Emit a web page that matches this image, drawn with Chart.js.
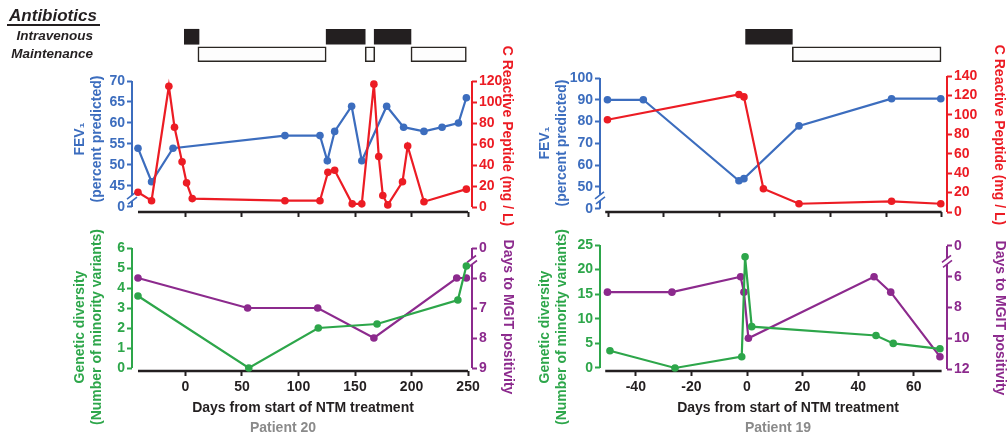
<!DOCTYPE html>
<html><head><meta charset="utf-8">
<script src="https://cdn.jsdelivr.net/npm/chart.js@4/dist/chart.umd.min.js"></script>
<style>
html,body{margin:0;padding:0;background:#fff;}
#wrap{position:relative;width:1008px;height:437px;overflow:hidden;font-family:"Liberation Sans",Arial,sans-serif;}
#wrap canvas{position:absolute;left:0;top:0;}
.t{position:absolute;white-space:nowrap;font-weight:bold;font-size:14px;line-height:17px;text-align:center;transform:translate(-50%,-50%);}
.rl{transform:translate(-50%,-50%) rotate(-90deg);}
.rr{transform:translate(-50%,-50%) rotate(90deg);}
</style></head>
<body><div id="wrap"></div>
<script>
// ---------------- DATA ----------------
// Patient 20
const p20FevDays  = [-42, -30, -11, 88, 119, 125.5, 132, 147, 156, 178, 193, 211, 227, 241.5, 248.5];
const p20Fev      = [54, 46, 54, 57, 57, 51, 58, 64, 51, 64, 59, 58, 59, 60, 66];
const p20CrpDays  = [-42, -30, -14.7, -9.7, -3, 1, 6, 88, 119, 126, 132, 147.5, 156, 166.7, 171, 174.6, 179, 192, 196.6, 211, 248.5];
const p20Crp      = [14, 6, 115, 76, 43, 23, 8, 6, 6, 33, 35, 3, 3, 117, 48, 11, 2, 24, 58, 5, 17];
const p20DivDays  = [-42, 56, 117.5, 169.5, 241, 248.5];
const p20Div      = [3.6, 0, 2.0, 2.2, 3.4, 5.1];
const p20MgitDays = [-42, 55, 117, 166.7, 240, 248.5];
const p20Mgit     = [6, 7, 7, 8, 6, 6];
const p20IvStart  = [-1, 124.5, 167];
const p20IvEnd    = [12, 159, 199.5];
const p20MaStart  = [11, 159, 199.5];
const p20MaEnd    = [124.5, 167.5, 248.5];
// Patient 19
const p19FevDays  = [-50.2, -37.3, -2.9, -1.1, 18.7, 52, 69.7];
const p19Fev      = [90, 90, 52.8, 53.8, 78, 90.5, 90.5];
const p19CrpDays  = [-50.2, -2.9, -1.1, 5.9, 18.7, 52, 69.7];
const p19Crp      = [95, 121, 118.5, 24, 8.5, 11, 8.5];
const p19DivDays  = [-49.3, -25.9, -1.9, -0.7, 1.7, 46.4, 52.6, 69.4];
const p19Div      = [3.5, 0, 2.3, 22.6, 8.4, 6.6, 5.0, 3.9];
const p19MgitDays = [-50.2, -27, -2.3, -1.1, 0.5, 45.7, 51.7, 69.4];
const p19Mgit     = [7, 7, 6, 7, 10, 6, 7, 11.2];
const p19IvStart  = [-0.5];
const p19IvEnd    = [16.3];
const p19MaStart  = [16.3];
const p19MaEnd    = [69.8];
// Ticks and labels
const p20DayTicks   = [0, 50, 100, 150, 200, 250];
const p19TopTicks   = [-50, -30, -10, 10, 30, 50, 70];
const p19DayTicks   = [-40, -20, 0, 20, 40, 60];
const p20FevTicks   = [40, 45, 50, 55, 60, 65, 70];
const p20FevLabels  = ['0', '45', '50', '55', '60', '65', '70'];
const p20CrpTicks   = [0, 20, 40, 60, 80, 100, 120];
const p20DivTicks   = [0, 1, 2, 3, 4, 5, 6];
const p20MgitTicks  = [5, 6, 7, 8, 9];
const p20MgitLabels = ['0', '6', '7', '8', '9'];
const p19FevTicks   = [40, 50, 60, 70, 80, 90, 100];
const p19FevLabels  = ['0', '50', '60', '70', '80', '90', '100'];
const p19CrpTicks   = [0, 20, 40, 60, 80, 100, 120, 140];
const p19DivTicks   = [0, 5, 10, 15, 20, 25];
const p19MgitTicks  = [4, 6, 8, 10, 12];
const p19MgitLabels = ['0', '6', '8', '10', '12'];
const abxRows = ['Intravenous', 'Maintenance'];

// ---------------- STYLE ----------------
const FONT = "'Liberation Sans', Arial, sans-serif";
const BLUE = '#3C6DBE', RED = '#EC1C24', GREEN = '#2DA64A', PURPLE = '#8C2A8D', INK = '#231F20', GRAY = '#8A8A8A';
const W = 1008, H = 437;
const wrap = document.getElementById('wrap');

function pts(xs, ys) { return xs.map((x, i) => ({x: x, y: ys[i]})); }
function tickFont() { return {family: FONT, size: 14, weight: 'bold'}; }

function yScale(pos, color, min, max, ticks, labels, width, reverse) {
  return {
    type: 'linear', position: pos, min: min, max: max, reverse: !!reverse,
    afterBuildTicks: s => { s.ticks = ticks.map(v => ({value: v})); },
    afterFit: s => { s.width = width; },
    border: {display: false},
    grid: {display: true, drawOnChartArea: false, drawTicks: true, tickLength: 5, tickWidth: 2, tickColor: color, color: color},
    ticks: {color: color, font: tickFont(), padding: 2, autoSkip: false,
      callback: v => { const i = ticks.indexOf(v); return i >= 0 ? (labels ? labels[i] : String(v)) : ''; }}
  };
}
function xScale(min, max, ticks, showLabels, height) {
  return {
    type: 'linear', position: 'bottom', min: min, max: max,
    afterBuildTicks: s => { s.ticks = ticks.map(v => ({value: v})); },
    afterFit: s => { s.height = height; },
    border: {display: false},
    grid: {display: true, drawOnChartArea: false, drawTicks: true, tickLength: 5, tickWidth: 2, tickColor: INK, color: INK},
    ticks: {display: showLabels, color: INK, font: tickFont(), padding: 3, maxRotation: 0, autoSkip: false,
      callback: v => String(v)}
  };
}
function lineDs(xs, ys, color, axis) {
  return {data: pts(xs, ys), yAxisID: axis, xAxisID: 'x', borderColor: color, backgroundColor: color,
    pointBackgroundColor: color, pointBorderColor: color, pointBorderWidth: 0, pointRadius: 3.8,
    borderWidth: 2.2, tension: 0, clip: false};
}

// axis lines + break marks, drawn from the library scales
const axisLines = {
  id: 'axisLines',
  beforeDatasetsDraw(chart, args, opts) {
    const ctx = chart.ctx, ca = chart.chartArea;
    (opts.lines || []).forEach(L => {
      const s = chart.scales[L.scale];
      ctx.save();
      ctx.strokeStyle = L.color; ctx.lineWidth = L.width || 2; ctx.lineCap = 'butt';
      ctx.beginPath();
      if (s.isHorizontal()) {
        const y = ca.bottom;
        ctx.moveTo(s.getPixelForValue(L.from), y); ctx.lineTo(s.getPixelForValue(L.to), y);
        ctx.stroke();
      } else {
        const x = s.position === 'left' ? ca.left : ca.right;
        ctx.moveTo(x, s.getPixelForValue(L.from)); ctx.lineTo(x, s.getPixelForValue(L.to));
        ctx.stroke();
        if (L.brk != null) {
          const y = s.getPixelForValue(L.brk);
          ctx.fillStyle = '#fff';
          ctx.fillRect(x - 2, y - 3, 4, 6);
          ctx.lineWidth = 1.6;
          ctx.beginPath();
          ctx.moveTo(x - 5, y + 1); ctx.lineTo(x + 4, y - 6);
          ctx.moveTo(x - 4, y + 6); ctx.lineTo(x + 5, y - 1);
          ctx.stroke();
        }
      }
      ctx.restore();
    });
  }
};

function makeCanvas() {
  const c = document.createElement('canvas');
  c.width = W; c.height = H; c.style.width = W + 'px'; c.style.height = H + 'px';
  wrap.appendChild(c);
  return c;
}
function pad(l, t, r, b, wL, wR, hX) {
  return {left: l - wL, top: t, right: W - r - wR, bottom: H - b - hX};
}
function baseOpts(padding, scales, lines) {
  return {
    responsive: false, animation: false, devicePixelRatio: 1,
    layout: {padding: padding},
    scales: scales,
    plugins: {legend: {display: false}, tooltip: {enabled: false}, title: {display: false}, axisLines: {lines: lines}}
  };
}
function lineChart(datasets, padding, scales, lines) {
  new Chart(makeCanvas(), {type: 'line', data: {datasets: datasets}, options: baseOpts(padding, scales, lines), plugins: [axisLines]});
}
// one floating-bar dataset per treatment interval; row 0 = intravenous, row 1 = maintenance
function abxDatasets(st, en, row) {
  return st.map((s, i) => {
    const data = abxRows.map((r, j) => (j === row ? [s, en[i]] : null));
    return row === 0
      ? {data: data, backgroundColor: INK, borderColor: INK, borderWidth: 0, barThickness: 15, grouped: false}
      : {data: data, backgroundColor: '#FDFDFD', borderColor: '#2A2622', borderWidth: 1.6, borderSkipped: false, barThickness: 15, grouped: false};
  });
}
function abxChart(ivS, ivE, maS, maE, xmin, xmax, l, r, showLabels) {
  new Chart(makeCanvas(), {
    type: 'bar',
    data: {labels: abxRows, datasets: abxDatasets(ivS, ivE, 0).concat(abxDatasets(maS, maE, 1))},
    options: {
      indexAxis: 'y', responsive: false, animation: false, devicePixelRatio: 1,
      layout: {padding: {left: showLabels ? 0 : l, top: 28, right: W - r, bottom: H - 63}},
      scales: {
        x: {type: 'linear', min: xmin, max: xmax, display: false},
        y: {type: 'category', display: showLabels, offset: true,
            afterFit: s => { if (showLabels) s.width = l; s.paddingTop = 0; s.paddingBottom = 0; },
            border: {display: false}, grid: {display: false},
            ticks: {color: INK, padding: 31, autoSkip: false, font: {family: FONT, size: 13.5, weight: 'bold', style: 'italic'}}}
      },
      plugins: {legend: {display: false}, tooltip: {enabled: false}}
    }
  });
}

// ---------------- PATIENT 20 ----------------
const P20X = [-47.3, 253.5];
abxChart(p20IvStart, p20IvEnd, p20MaStart, p20MaEnd, P20X[0], P20X[1], 132, 472, true);
lineChart(
  [lineDs(p20CrpDays, p20Crp, RED, 'yR'), lineDs(p20FevDays, p20Fev, BLUE, 'yL')],
  pad(132, 81, 472, 212, 60, 40, 10),
  {x: xScale(P20X[0], P20X[1], p20DayTicks, false, 10),
   yL: yScale('left', BLUE, 38.8, 70, p20FevTicks, p20FevLabels, 60),
   yR: yScale('right', RED, -4.76, 120, p20CrpTicks, null, 40)},
  [{scale: 'yL', from: 70, to: 40, color: BLUE, brk: 42.1},
   {scale: 'yR', from: 120, to: 0, color: RED},
   {scale: 'x', from: -42, to: 250, color: INK, width: 2.5}]
);
lineChart(
  [lineDs(p20DivDays, p20Div, GREEN, 'yL'), lineDs(p20MgitDays, p20Mgit, PURPLE, 'yR')],
  pad(132, 248, 472, 371, 60, 40, 30),
  {x: xScale(P20X[0], P20X[1], p20DayTicks, true, 30),
   yL: yScale('left', GREEN, -0.15, 6, p20DivTicks, null, 60),
   yR: yScale('right', PURPLE, 5, 9.1, p20MgitTicks, p20MgitLabels, 40, true)},
  [{scale: 'yL', from: 6, to: 0, color: GREEN},
   {scale: 'yR', from: 5, to: 9, color: PURPLE, brk: 5.45},
   {scale: 'x', from: -42, to: 250, color: INK, width: 2.5}]
);

// ---------------- PATIENT 19 ----------------
const P19X = [-52.88, 71.94];
abxChart(p19IvStart, p19IvEnd, p19MaStart, p19MaEnd, P19X[0], P19X[1], 600, 947, false);
lineChart(
  [lineDs(p19CrpDays, p19Crp, RED, 'yR'), lineDs(p19FevDays, p19Fev, BLUE, 'yL')],
  pad(600, 76, 947, 212, 60, 45, 10),
  {x: xScale(P19X[0], P19X[1], p19TopTicks, false, 10),
   yL: yScale('left', BLUE, 38.48, 100.92, p19FevTicks, p19FevLabels, 60),
   yR: yScale('right', RED, 0, 140, p19CrpTicks, null, 45)},
  [{scale: 'yL', from: 100, to: 40, color: BLUE, brk: 45},
   {scale: 'yR', from: 140, to: 0, color: RED},
   {scale: 'x', from: -51, to: 70, color: INK, width: 2.5}]
);
lineChart(
  [lineDs(p19DivDays, p19Div, GREEN, 'yL'), lineDs(p19MgitDays, p19Mgit, PURPLE, 'yR')],
  pad(600, 245, 947, 371, 60, 45, 30),
  {x: xScale(P19X[0], P19X[1], p19DayTicks, true, 30),
   yL: yScale('left', GREEN, -0.61, 25, p19DivTicks, null, 60),
   yR: yScale('right', PURPLE, 3.935, 12.13, p19MgitTicks, p19MgitLabels, 45, true)},
  [{scale: 'yL', from: 25, to: 0, color: GREEN},
   {scale: 'yR', from: 4, to: 12, color: PURPLE, brk: 5},
   {scale: 'x', from: -51, to: 70, color: INK, width: 2.5}]
);

// ---------------- TEXT ----------------
function txt(html, x, y, cls, style) {
  const d = document.createElement('div');
  d.className = 't' + (cls ? ' ' + cls : '');
  d.innerHTML = html;
  d.style.left = x + 'px'; d.style.top = y + 'px';
  if (style) d.style.cssText += style;
  wrap.appendChild(d);
}
txt('Antibiotics', 53, 15, '', 'font-size:17px;font-style:italic;color:' + INK);
const ul = document.createElement('div');
ul.style.cssText = 'position:absolute;left:7px;top:24px;width:93px;height:2px;background:' + INK;
wrap.appendChild(ul);

txt('FEV₁<br>(percent predicted)', 88, 139, 'rl', 'color:' + BLUE);
txt('C Reactive Peptide (mg / L)', 507, 136, 'rr', 'color:' + RED);
txt('Genetic diversity<br>(Number of minority variants)', 88, 327, 'rl', 'color:' + GREEN);
txt('Days to MGIT positivity', 508, 317, 'rr', 'color:' + PURPLE);
txt('Days from start of NTM treatment', 303, 407, '', 'color:' + INK);
txt('Patient 20', 283, 427, '', 'color:' + GRAY);

txt('FEV₁<br>(percent predicted)', 553, 143, 'rl', 'color:' + BLUE);
txt('C Reactive Peptide (mg / L)', 999, 135, 'rr', 'color:' + RED);
txt('Genetic diversity<br>(Number of minority variants)', 553, 327, 'rl', 'color:' + GREEN);
txt('Days to MGIT positivity', 1000, 318, 'rr', 'color:' + PURPLE);
txt('Days from start of NTM treatment', 788, 407, '', 'color:' + INK);
txt('Patient 19', 778, 427, '', 'color:' + GRAY);
</script>
</body></html>
